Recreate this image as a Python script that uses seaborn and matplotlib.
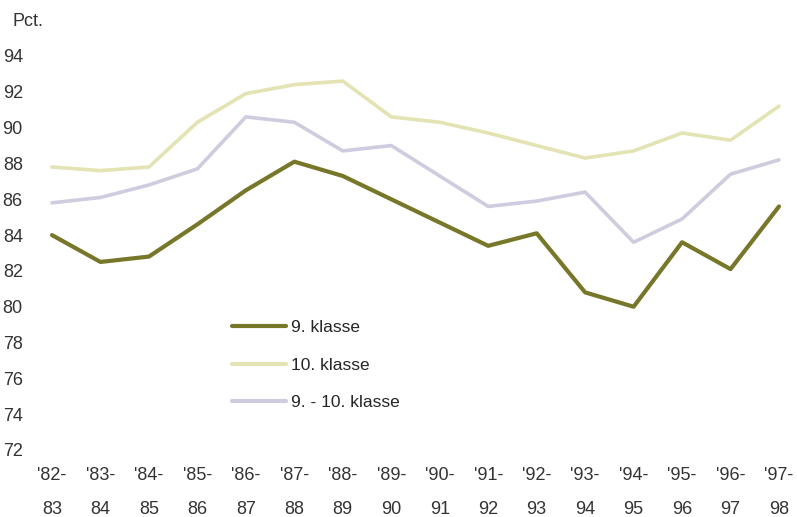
import seaborn as sns
import matplotlib.pyplot as plt
import pandas as pd

# school years and share of pupils (pct.)
years = ["'82-\n83", "'83-\n84", "'84-\n85", "'85-\n86", "'86-\n87", "'87-\n88",
         "'88-\n89", "'89-\n90", "'90-\n91", "'91-\n92", "'92-\n93", "'93-\n94",
         "'94-\n95", "'95-\n96", "'96-\n97", "'97-\n98"]
klasse_9 = [84.0, 82.5, 82.8, 84.6, 86.5, 88.1, 87.3, 86.0, 84.7, 83.4, 84.1, 80.8,
            80.0, 83.6, 82.1, 85.6]
klasse_10 = [87.8, 87.6, 87.8, 90.3, 91.9, 92.4, 92.6, 90.6, 90.3, 89.7, 89.0, 88.3,
             88.7, 89.7, 89.3, 91.2]
klasse_9_10 = [85.8, 86.1, 86.8, 87.7, 90.6, 90.3, 88.7, 89.0, 87.3, 85.6, 85.9, 86.4,
               83.6, 84.9, 87.4, 88.2]
yticks = list(range(72, 95, 2))

names = ["9. klasse", "10. klasse", "9. - 10. klasse"]
df = pd.DataFrame({
    "x": list(range(len(years))) * 3,
    "pct": klasse_9 + klasse_10 + klasse_9_10,
    "serie": [n for n in names for _ in years],
})

sns.set_style("white")
plt.rcParams["font.family"] = ["Liberation Sans", "DejaVu Sans"]

fig = plt.figure(figsize=(7.97, 5.17), dpi=100)
ax = fig.add_axes([52 / 797, 67 / 517, 727 / 797, 394 / 517])

pal = {"9. klasse": "#77772a", "10. klasse": "#e3e3b3", "9. - 10. klasse": "#cdcddf"}
sns.lineplot(data=df, x="x", y="pct", hue="serie", hue_order=names, palette=pal,
             ax=ax, linewidth=2.6)
for ln in ax.lines:
    ln.set_clip_on(False)
ax.lines[0].set_linewidth(3.0)
ax.lines[0].set_zorder(4)

ax.set_xlim(0, len(years) - 1)
ax.set_ylim(72, 94)
ax.set_xticks(range(len(years)))
ax.set_xticklabels(years, linespacing=2.3)
ax.set_yticks(yticks)
ax.tick_params(axis="y", length=0, pad=21, labelsize=13, labelcolor="#333333")
ax.tick_params(axis="x", length=0, pad=12, labelsize=13, labelcolor="#333333")
ax.set_xlabel("")
ax.set_ylabel("")
sns.despine(ax=ax, left=True, bottom=True)

fig.text(12 / 797, 1 - 22 / 517, "Pct.", fontsize=13, color="#333333", va="center")

leg = ax.legend(loc="upper left", bbox_to_anchor=(0.226, 0.37), frameon=False,
                fontsize=12.5, handlelength=3.1, labelspacing=1.3, handletextpad=0.3)
for h in leg.get_lines():
    h.set_linewidth(3.0)

fig.savefig("out.png", dpi=100)
